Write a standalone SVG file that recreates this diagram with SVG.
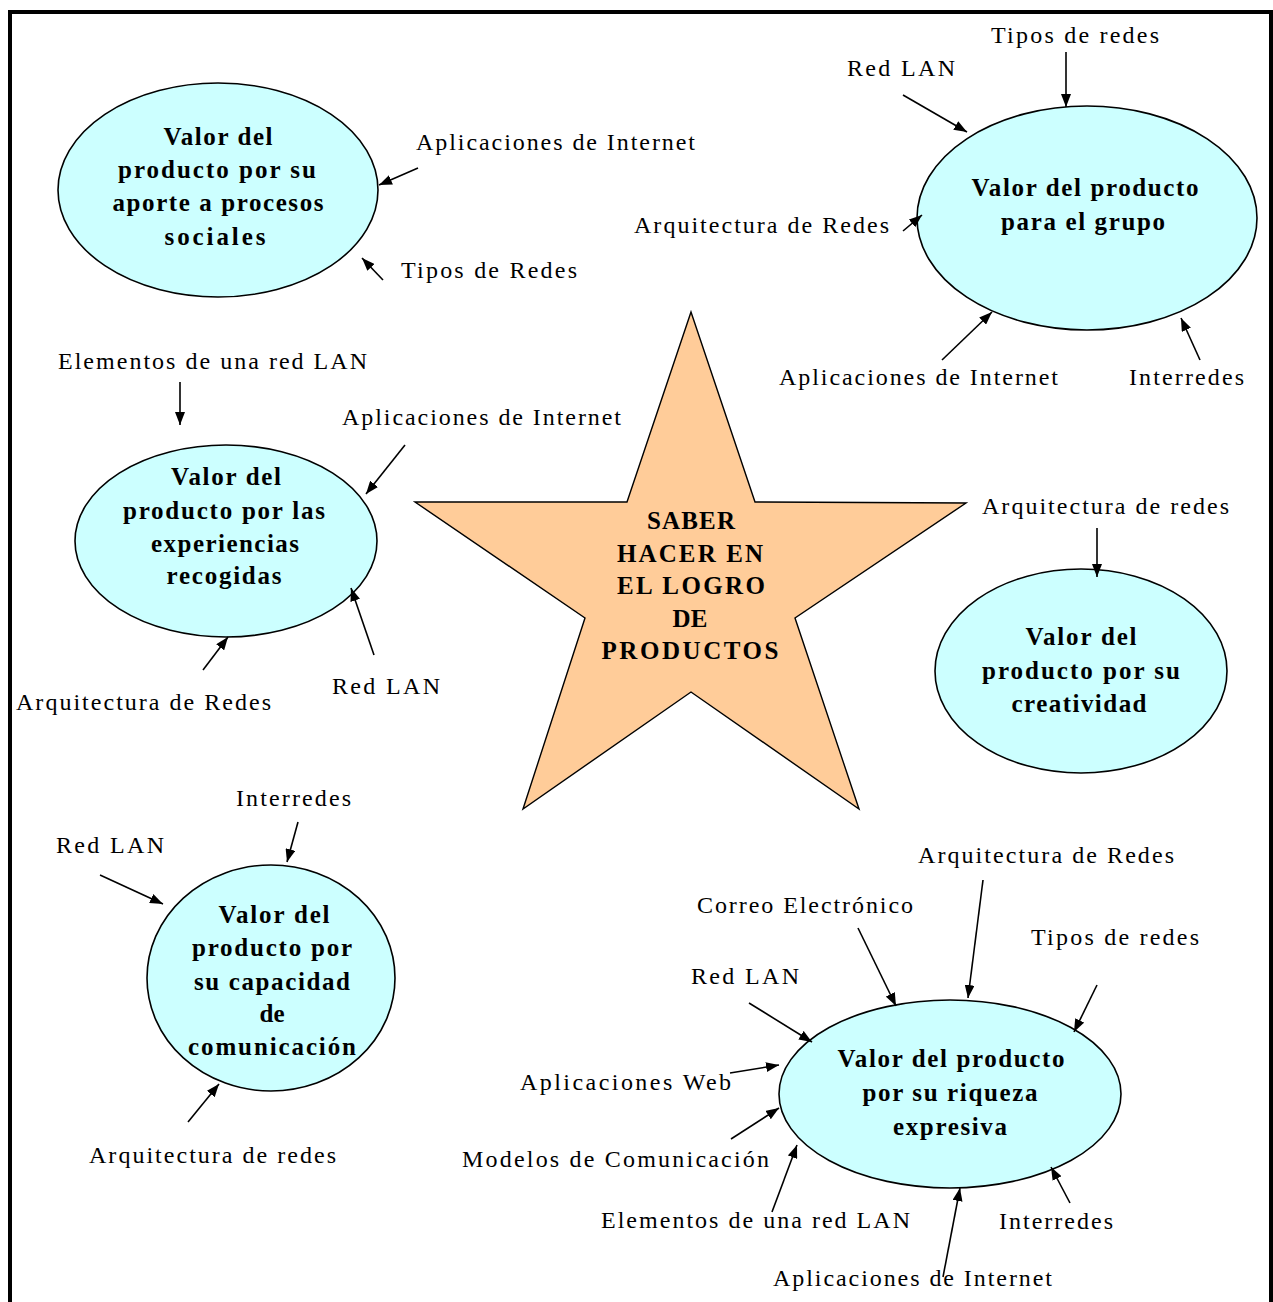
<svg xmlns="http://www.w3.org/2000/svg" width="1273" height="1302" viewBox="0 0 1273 1302">
<style>
.frame{fill:none;stroke:#000;stroke-width:4}
.ell{fill:#CCFFFF;stroke:#000;stroke-width:1.6}
.star{fill:#FFCC99;stroke:#000;stroke-width:1.4}
.t{font-size:25px;font-weight:bold;fill:#000;text-anchor:middle}
.s{font-size:25px;font-weight:bold;fill:#000;text-anchor:middle}
.l{font-size:24px;fill:#000}
.c line{stroke:#000;stroke-width:1.6;marker-end:url(#ah)}
</style>
<defs>
<marker id="ah" markerUnits="userSpaceOnUse" markerWidth="13" markerHeight="10" refX="13" refY="5" orient="auto">
<path d="M0,0 L13,5 L0,10 z" fill="#000"/>
</marker>
</defs>
<rect width="1273" height="1302" fill="#fff"/>
<path class="frame" d="M10,1302 V12 H1271 V1302"/>

<g font-family="'Liberation Serif', 'Times New Roman', 'DejaVu Serif', serif">
<g id="star">
<polygon class="star" points="691,312 755,502 966,503 795,618 859,809 691,692 523,809 585,618 415,502 627,502"/>
<text class="s" x="691" y="529" textLength="88">SABER</text>
<text class="s" x="690" y="562" textLength="146">HACER EN</text>
<text class="s" x="691" y="594" textLength="148">EL LOGRO</text>
<text class="s" x="690" y="627" textLength="35">DE</text>
<text class="s" x="690" y="659" textLength="177">PRODUCTOS</text>
</g>

<g id="n-sociales">
<ellipse class="ell" cx="218" cy="190" rx="160" ry="107"/>
<text class="t" x="218" y="145" textLength="109">Valor del</text>
<text class="t" x="217" y="178" textLength="198">producto por su</text>
<text class="t" x="218" y="211" textLength="211">aporte a procesos</text>
<text class="t" x="215" y="245" textLength="101">sociales</text>
</g>

<g id="n-grupo">
<ellipse class="ell" cx="1087" cy="218" rx="170" ry="112"/>
<text class="t" x="1085" y="196" textLength="227">Valor del producto</text>
<text class="t" x="1083" y="230" textLength="164">para el grupo</text>
</g>

<g id="n-experiencias">
<ellipse class="ell" cx="226" cy="541" rx="151" ry="96"/>
<text class="t" x="226" y="485" textLength="110">Valor del</text>
<text class="t" x="224" y="519" textLength="202">producto por las</text>
<text class="t" x="225" y="552" textLength="148">experiencias</text>
<text class="t" x="224" y="584" textLength="115">recogidas</text>
</g>

<g id="n-creatividad">
<ellipse class="ell" cx="1081" cy="671" rx="146" ry="102"/>
<text class="t" x="1081" y="645" textLength="111">Valor del</text>
<text class="t" x="1081" y="679" textLength="198">producto por su</text>
<text class="t" x="1079" y="712" textLength="135">creatividad</text>
</g>

<g id="n-comunicacion">
<ellipse class="ell" cx="271" cy="978" rx="124" ry="113"/>
<text class="t" x="274" y="923" textLength="111">Valor del</text>
<text class="t" x="272" y="956" textLength="160">producto por</text>
<text class="t" x="272" y="990" textLength="156">su capacidad</text>
<text class="t" x="272" y="1022" textLength="25">de</text>
<text class="t" x="272" y="1055" textLength="168">comunicación</text>
</g>

<g id="n-riqueza">
<ellipse class="ell" cx="950" cy="1094" rx="171" ry="94"/>
<text class="t" x="951" y="1067" textLength="227">Valor del producto</text>
<text class="t" x="950" y="1101" textLength="175">por su riqueza</text>
<text class="t" x="950" y="1135" textLength="114">expresiva</text>
</g>

<g id="labels">
<text class="l" x="416" y="150" textLength="279">Aplicaciones de Internet</text>
<text class="l" x="401" y="278" textLength="176">Tipos de Redes</text>

<text class="l" x="991" y="43" textLength="168">Tipos de redes</text>
<text class="l" x="847" y="76" textLength="108">Red LAN</text>
<text class="l" x="634" y="233" textLength="255">Arquitectura de Redes</text>
<text class="l" x="779" y="385" textLength="279">Aplicaciones de Internet</text>
<text class="l" x="1129" y="385" textLength="115">Interredes</text>

<text class="l" x="58" y="369" textLength="309">Elementos de una red LAN</text>
<text class="l" x="342" y="425" textLength="279">Aplicaciones de Internet</text>
<text class="l" x="16" y="710" textLength="255">Arquitectura de Redes</text>
<text class="l" x="332" y="694" textLength="108">Red LAN</text>

<text class="l" x="982" y="514" textLength="247">Arquitectura de redes</text>

<text class="l" x="236" y="806" textLength="115">Interredes</text>
<text class="l" x="56" y="853" textLength="108">Red LAN</text>
<text class="l" x="89" y="1163" textLength="247">Arquitectura de redes</text>

<text class="l" x="918" y="863" textLength="256">Arquitectura de Redes</text>
<text class="l" x="697" y="913" textLength="216">Correo Electrónico</text>
<text class="l" x="1031" y="945" textLength="168">Tipos de redes</text>
<text class="l" x="691" y="984" textLength="108">Red LAN</text>
<text class="l" x="520" y="1090" textLength="211">Aplicaciones Web</text>
<text class="l" x="462" y="1167" textLength="307">Modelos de Comunicación</text>
<text class="l" x="601" y="1228" textLength="309">Elementos de una red LAN</text>
<text class="l" x="999" y="1229" textLength="114">Interredes</text>
<text class="l" x="773" y="1286" textLength="279">Aplicaciones de Internet</text>
</g>
</g>

<g id="connectors" class="c">
<line x1="418" y1="168" x2="379" y2="185"/>
<line x1="383" y1="280" x2="362" y2="258"/>

<line x1="1066" y1="52" x2="1066" y2="107"/>
<line x1="903" y1="95" x2="967" y2="132"/>
<line x1="903" y1="231" x2="922" y2="215"/>
<line x1="942" y1="360" x2="992" y2="312"/>
<line x1="1200" y1="360" x2="1181" y2="318"/>

<line x1="180" y1="382" x2="180" y2="425"/>
<line x1="405" y1="445" x2="366" y2="494"/>
<line x1="203" y1="670" x2="228" y2="637"/>
<line x1="374" y1="655" x2="351" y2="588"/>

<line x1="1097" y1="528" x2="1097" y2="577"/>

<line x1="298" y1="822" x2="287" y2="862"/>
<line x1="100" y1="875" x2="163" y2="904"/>
<line x1="188" y1="1122" x2="219" y2="1084"/>

<line x1="983" y1="880" x2="968" y2="998"/>
<line x1="858" y1="928" x2="896" y2="1006"/>
<line x1="1097" y1="985" x2="1074" y2="1032"/>
<line x1="749" y1="1003" x2="812" y2="1042"/>
<line x1="730" y1="1073" x2="779" y2="1065"/>
<line x1="731" y1="1139" x2="779" y2="1108"/>
<line x1="772" y1="1212" x2="797" y2="1145"/>
<line x1="1070" y1="1203" x2="1051" y2="1167"/>
<line x1="943" y1="1277" x2="960" y2="1188"/>
</g>
</svg>
